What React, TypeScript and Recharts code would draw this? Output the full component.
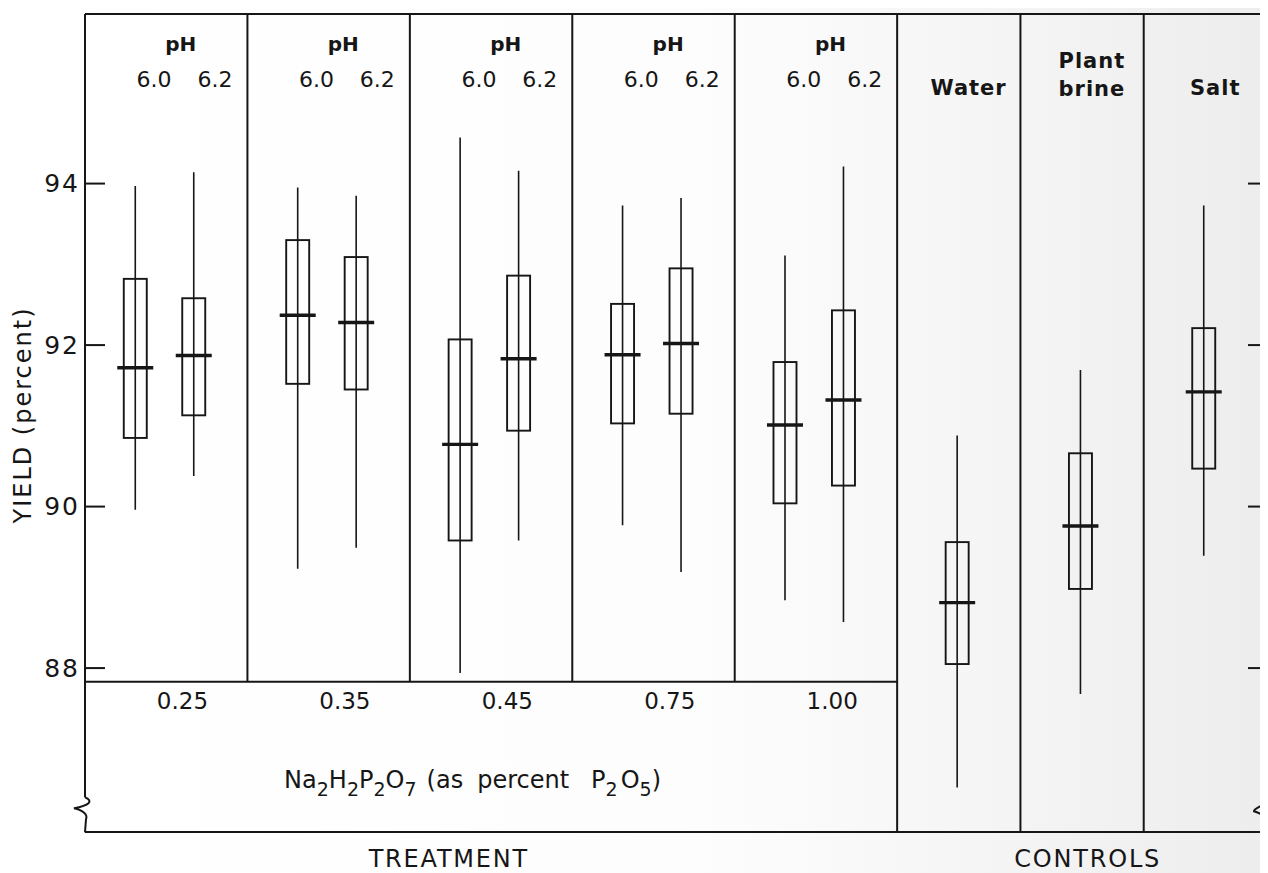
import React from 'react';
import { ComposedChart, Bar, Scatter, XAxis, YAxis, ReferenceLine, ReferenceDot } from 'recharts';

// ---------- data ----------
const treatmentGroups = ['0.25', '0.35', '0.45', '0.75', '1.00'];
const phLevels = ['6.0', '6.2'];
const controlGroups = [['Water'], ['Plant', 'brine'], ['Salt']];
const sectionTitles = ['TREATMENT', 'CONTROLS'];
const yTicks = [88, 90, 92, 94];

// treatment boxes, order: 0.25 pH6.0, 0.25 pH6.2, 0.35 pH6.0, ...
const treatLow = [89.96, 90.38, 89.23, 89.49, 87.94, 89.58, 89.77, 89.19, 88.84, 88.57];
const treatQ1 = [90.85, 91.13, 91.52, 91.45, 89.58, 90.94, 91.03, 91.15, 90.04, 90.26];
const treatMed = [91.72, 91.87, 92.37, 92.28, 90.77, 91.83, 91.88, 92.02, 91.01, 91.32];
const treatQ3 = [92.82, 92.58, 93.30, 93.09, 92.07, 92.86, 92.51, 92.95, 91.79, 92.43];
const treatHigh = [93.97, 94.14, 93.95, 93.85, 94.57, 94.16, 93.73, 93.82, 93.11, 94.21];

// control boxes: Water, Plant brine, Salt
const ctrlLow = [86.52, 87.68, 89.39];
const ctrlQ1 = [88.05, 88.98, 90.47];
const ctrlMed = [88.81, 89.76, 91.42];
const ctrlQ3 = [89.56, 90.66, 92.21];
const ctrlHigh = [90.88, 91.69, 93.73];

// ---------- layout ----------
const FONT = '"DejaVu Sans", sans-serif';
const INK = '#161616';
const CW = 0.759; // width of a control panel (treatment panel = 1)
const X_MAX = treatmentGroups.length + controlGroups.length * CW;
const Y_MIN = 85.97;
const Y_MAX = 96.1;
const TREAT_FLOOR = 87.83;
const BREAK_Y = 86.4;
const BOX_W = 23;
const MED_W = 36;
const PH_OFFSETS = [0.31, 0.67];
const CTRL_OFFSET = 0.37;

type BoxDatum = { x: number; low: number; q1: number; med: number; q3: number; high: number; range: [number, number] };

const boxes: BoxDatum[] = [];
treatmentGroups.forEach((_, gi) => {
  phLevels.forEach((__, pi) => {
    const k = gi * phLevels.length + pi;
    boxes.push({
      x: gi + PH_OFFSETS[pi],
      low: treatLow[k], q1: treatQ1[k], med: treatMed[k], q3: treatQ3[k], high: treatHigh[k],
      range: [treatLow[k], treatHigh[k]],
    });
  });
});
controlGroups.forEach((_, ci) => {
  boxes.push({
    x: treatmentGroups.length + ci * CW + CTRL_OFFSET,
    low: ctrlLow[ci], q1: ctrlQ1[ci], med: ctrlMed[ci], q3: ctrlQ3[ci], high: ctrlHigh[ci],
    range: [ctrlLow[ci], ctrlHigh[ci]],
  });
});

type LabelPt = { x: number; y: number; text: string; kind: string };
const labelPoints: LabelPt[] = [
  ...treatmentGroups.flatMap((g, gi) => [
    { x: gi + 0.59, y: 95.73, text: 'pH', kind: 'ph' },
    { x: gi + 0.425, y: 95.29, text: phLevels[0], kind: 'num' },
    { x: gi + 0.8, y: 95.29, text: phLevels[1], kind: 'num' },
    { x: gi + 0.6, y: 87.59, text: g, kind: 'group' },
  ]),
  ...controlGroups.flatMap((lines, ci) =>
    lines.map((t, li) => ({
      x: treatmentGroups.length + ci * CW + 0.44,
      y: lines.length === 2 ? (li === 0 ? 95.52 : 95.18) : 95.19,
      text: t,
      kind: 'ctrl',
    }))
  ),
  { x: 2.386, y: 86.625, text: 'formula', kind: 'formula' },
];

const sectionTickValues = [2.24, 6.173];

// ---------- shapes ----------
const BoxShape = (props: any) => {
  const { x, y, width, height, payload } = props;
  if (payload == null || x == null) return null;
  const top = Math.min(y, y + height);
  const bottom = Math.max(y, y + height);
  const cx = x + width / 2;
  const k = (bottom - top) / (payload.high - payload.low);
  const py = (v: number) => top + (payload.high - v) * k;
  const yq3 = py(payload.q3);
  const yq1 = py(payload.q1);
  const ym = py(payload.med);
  return (
    <g>
      <line x1={cx} x2={cx} y1={top} y2={bottom} stroke={INK} strokeWidth={1.6} />
      <rect x={cx - BOX_W / 2} y={yq3} width={BOX_W} height={yq1 - yq3} fill="none" stroke={INK} strokeWidth={1.9} />
      <line x1={cx - MED_W / 2} x2={cx + MED_W / 2} y1={ym} y2={ym} stroke={INK} strokeWidth={3.4} />
    </g>
  );
};

const LabelShape = (props: any) => {
  const { cx, cy, payload } = props;
  if (payload == null || cx == null) return null;
  const common = { fill: INK, fontFamily: FONT, textAnchor: 'middle' as const };
  if (payload.kind === 'formula') {
    const sub = { fontSize: 19 };
    return (
      <text x={cx} y={cy} dy="0.35em" fontSize={24} {...common}>
        <tspan>Na</tspan>
        <tspan dy={8} {...sub}>2</tspan>
        <tspan dy={-8}>H</tspan>
        <tspan dy={8} {...sub}>2</tspan>
        <tspan dy={-8}>P</tspan>
        <tspan dy={8} {...sub}>2</tspan>
        <tspan dy={-8}>O</tspan>
        <tspan dy={8} {...sub}>7</tspan>
        <tspan dy={-8} dx={10}>(as</tspan>
        <tspan dx={14}>percent</tspan>
        <tspan dx={22}>P</tspan>
        <tspan dy={8} {...sub}>2</tspan>
        <tspan dy={-8} dx={3}>O</tspan>
        <tspan dy={8} {...sub}>5</tspan>
        <tspan dy={-8}>)</tspan>
      </text>
    );
  }
  if (payload.kind === 'ph') {
    return <text x={cx} y={cy} dy="0.35em" fontSize={20} fontWeight="bold" {...common}>{payload.text}</text>;
  }
  if (payload.kind === 'ctrl') {
    return <text x={cx} y={cy} dy="0.35em" fontSize={21} fontWeight="bold" letterSpacing={1} {...common}>{payload.text}</text>;
  }
  if (payload.kind === 'group') {
    return <text x={cx} y={cy} dy="0.35em" fontSize={23} {...common}>{payload.text}</text>;
  }
  return <text x={cx} y={cy} dy="0.35em" fontSize={22} {...common}>{payload.text}</text>;
};

const YLabel = (props: any) => {
  const vb = props.viewBox || { x: 0, y: 6, width: 77, height: 818 };
  const cx = vb.x + 15;
  const cy = vb.y + vb.height / 2 - 8;
  return (
    <text x={cx} y={cy} dy="0.35em" transform={`rotate(-90 ${cx} ${cy})`} textAnchor="middle"
      fontSize={24} letterSpacing={2} fill={INK} fontFamily={FONT}>
      YIELD (percent)
    </text>
  );
};

const LeftBreak = (props: any) => {
  const { cx, cy } = props;
  if (cx == null) return null;
  return (
    <path d={`M${cx},${cy} C${cx + 9},${cy + 4} ${cx + 4},${cy + 8} ${cx - 11},${cy + 11} C${cx - 2},${cy + 13} ${cx + 3},${cy + 17} ${cx + 1},${cy + 22} L${cx},${cy + 35}`}
      fill="none" stroke={INK} strokeWidth={2} />
  );
};

const RightBreak = (props: any) => {
  const { cx, cy } = props;
  if (cx == null) return null;
  return (
    <path d={`M${cx},${cy - 22} L${cx},${cy + 6} C${cx - 4},${cy + 8} ${cx - 13},${cy + 11} ${cx - 13},${cy + 14} C${cx - 7},${cy + 16} ${cx - 2},${cy + 18} ${cx},${cy + 21} L${cx},${cy + 31} C${cx},${cy + 34} ${cx - 3},${cy + 35} ${cx - 6},${cy + 35}`}
      fill="none" stroke={INK} strokeWidth={2} />
  );
};

type Seg = [{ x: number; y: number }, { x: number; y: number }];
const frameSegments: Seg[] = [
  [{ x: 0, y: Y_MAX }, { x: X_MAX, y: Y_MAX }],
  [{ x: 0, y: Y_MAX }, { x: 0, y: BREAK_Y }],
  [{ x: 0, y: Y_MIN }, { x: X_MAX - 0.035, y: Y_MIN }],
  [{ x: 0, y: TREAT_FLOOR }, { x: treatmentGroups.length, y: TREAT_FLOOR }],
  ...treatmentGroups.slice(1).map((_, i): Seg => [{ x: i + 1, y: TREAT_FLOOR }, { x: i + 1, y: Y_MAX }]),
  ...controlGroups.map((_, ci): Seg => [
    { x: treatmentGroups.length + ci * CW, y: Y_MIN },
    { x: treatmentGroups.length + ci * CW, y: Y_MAX },
  ]),
  ...yTicks.map((t): Seg => [{ x: 0, y: t }, { x: 0.123, y: t }]),
  ...yTicks.map((t): Seg => [{ x: X_MAX - 0.117, y: t }, { x: X_MAX, y: t }]),
];

export default function App() {
  return (
    <div style={{ width: 1260, height: 865, background: 'linear-gradient(90deg, #ffffff 0%, #fdfdfd 55%, #ededed 100%)' }}>
      <ComposedChart width={1260} height={865} data={boxes} margin={{ top: 6, right: 1, bottom: 0, left: 0 }}>
        <XAxis
          type="number"
          dataKey="x"
          domain={[0, X_MAX]}
          ticks={sectionTickValues}
          interval={0}
          tickFormatter={(v: number) => (v < treatmentGroups.length ? sectionTitles[0] : sectionTitles[1])}
          height={41}
          tickSize={0}
          tickMargin={18}
          axisLine={false}
          tickLine={false}
          tick={{ fill: INK, fontSize: 24, fontFamily: FONT, letterSpacing: 1.8 }}
        />
        <YAxis
          type="number"
          domain={[Y_MIN, Y_MAX]}
          ticks={yTicks}
          width={77}
          tickSize={0}
          tickMargin={5}
          axisLine={false}
          tickLine={false}
          tick={{ fill: INK, fontSize: 25, fontFamily: FONT, letterSpacing: 2 }}
          label={<YLabel />}
        />
        {frameSegments.map((s, i) => (
          <ReferenceLine key={`seg-${i}`} segment={s} stroke={INK} strokeWidth={2} ifOverflow="visible" />
        ))}
        <ReferenceDot x={0} y={BREAK_Y} r={0} ifOverflow="visible" shape={LeftBreak} />
        <ReferenceDot x={X_MAX} y={BREAK_Y} r={0} ifOverflow="visible" shape={RightBreak} />
        <Bar dataKey="range" barSize={BOX_W} shape={BoxShape} isAnimationActive={false} />
        <Scatter data={labelPoints} dataKey="y" shape={LabelShape} isAnimationActive={false} />
      </ComposedChart>
    </div>
  );
}
